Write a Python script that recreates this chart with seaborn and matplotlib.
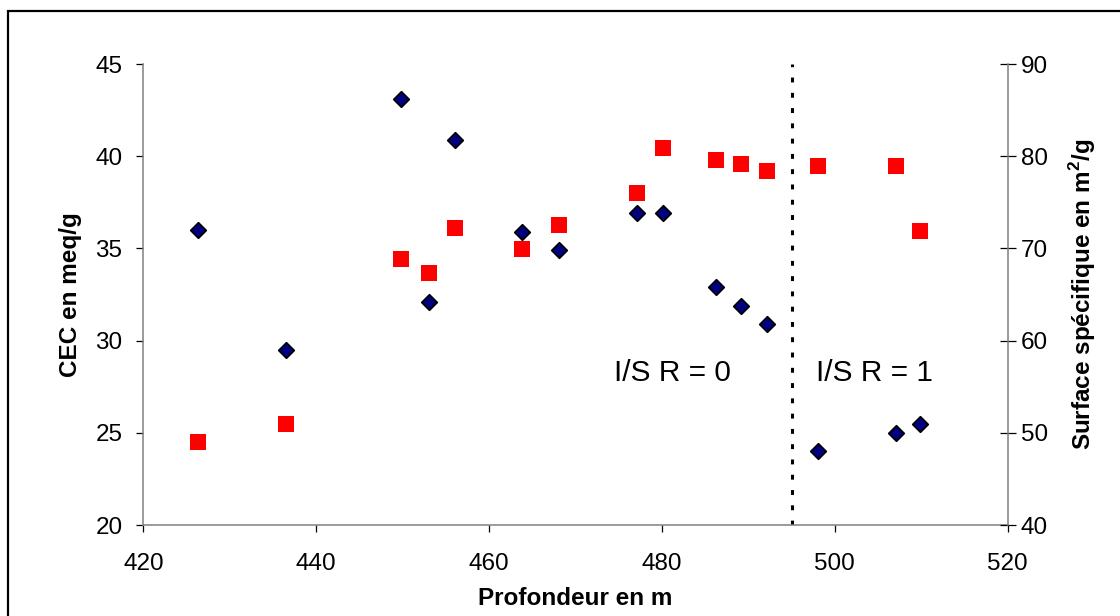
import numpy as np
import pandas as pd
import seaborn as sns
import matplotlib
matplotlib.use("Agg")
import matplotlib.pyplot as plt
from matplotlib.patches import Rectangle

# profondeur (m), CEC (meq/g), surface specifique (m2/g)
depth = [426.3, 436.5, 449.8, 453.1, 456.0, 463.8, 468.1, 477.1, 480.1, 486.2, 489.2, 492.2, 498.1, 507.1, 509.9]
cec = [36.0, 29.5, 43.1, 32.1, 40.9, 35.9, 34.9, 36.9, 36.9, 32.9, 31.9, 30.9, 24.0, 25.0, 25.5]
surface = [49.0, 51.0, 68.9, 67.3, 72.2, 69.9, 72.5, 76.0, 80.9, 79.6, 79.2, 78.4, 78.9, 78.9, 71.9]
limit_depth = 495
zone_labels = ["I/S R = 0", "I/S R = 1"]
zone_x = [481.2, 504.6]

sns.set_style("white")
plt.rcParams['font.family'] = ['Liberation Sans', 'DejaVu Sans']
plt.rcParams['mathtext.fontset'] = 'custom'
plt.rcParams['mathtext.bf'] = 'Liberation Sans:bold'
plt.rcParams['mathtext.rm'] = 'Liberation Sans'
plt.rcParams['text.color'] = 'black'
plt.rcParams['axes.labelcolor'] = 'black'
plt.rcParams['xtick.color'] = 'black'
plt.rcParams['ytick.color'] = 'black'
fsize = 17.5

df = pd.DataFrame({"depth": depth, "cec": cec, "surface": surface})

fig = plt.figure(figsize=(11.2, 6.16), dpi=100)
ax1 = fig.add_axes([0.128, 0.1477, 0.7717, 0.7484])
ax2 = ax1.twinx()

sns.scatterplot(data=df, x="depth", y="cec", ax=ax1, marker="D", s=62,
                color="#000080", edgecolor="black", linewidth=1.3, zorder=3)
sns.scatterplot(data=df, x="depth", y="surface", ax=ax2, marker="s", s=125,
                color="#ff0000", edgecolor="#ff0000", linewidth=0, zorder=3)

ax1.axvline(limit_depth, color="black", lw=2.2, dashes=(1.6, 3.4), zorder=2)
for lab, xx in zip(zone_labels, zone_x):
    ax1.text(xx, 28.24, lab, ha="center", va="center", fontsize=21.5, color="black")

ax1.set_xlim(420, 520)
ax1.set_ylim(20, 45)
ax2.set_ylim(40, 90)
ax1.set_xticks(np.arange(420, 521, 20))
ax1.set_yticks(np.arange(20, 46, 5))
ax2.set_yticks(np.arange(40, 91, 10))

for ax in (ax1, ax2):
    for sp in ax.spines.values():
        sp.set_color("#808080")
        sp.set_linewidth(1.1)
    ax.spines["top"].set_visible(False)
ax2.spines["left"].set_visible(False)
ax2.spines["bottom"].set_visible(False)
ax1.spines["right"].set_visible(False)

ax1.tick_params(axis="y", direction="out", length=5, width=0.9, color="black",
                pad=10, labelsize=fsize, labelcolor="black", left=True)
ax1.tick_params(axis="x", direction="out", length=5, width=0.9, color="black",
                pad=15, labelsize=fsize, labelcolor="black", bottom=True)
ax2.tick_params(axis="y", direction="inout", length=11, width=0.9, color="black",
                pad=4, labelsize=fsize, labelcolor="black", right=True)

ax1.set_xlabel("Profondeur en m", fontsize=fsize, fontweight="bold", labelpad=9, color="black")
ax1.set_ylabel("CEC en meq/g", fontsize=fsize, fontweight="bold", labelpad=10, color="black")
ax2.set_ylabel(r"Surface spécifique en m$^\mathbf{2}$/g", fontsize=fsize, fontweight="bold",
               labelpad=14, color="black")

# cadre exterieur (coupe a droite et en bas)
top = 1 - 11 / 616
fig.patches.append(Rectangle((8 / 1120, -0.2), 1.2, top + 0.2, fill=False,
                             edgecolor="black", linewidth=1.6, transform=fig.transFigure,
                             figure=fig))

fig.savefig("out.png", dpi=100)
